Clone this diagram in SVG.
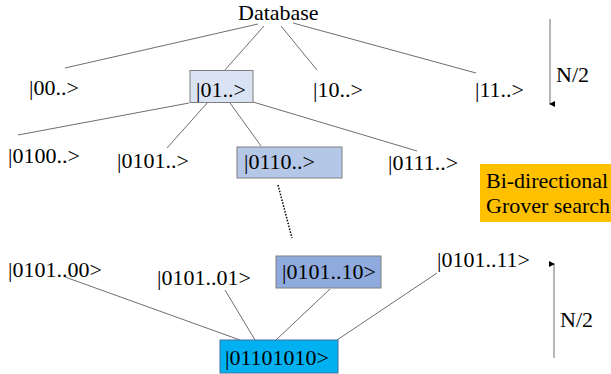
<svg xmlns="http://www.w3.org/2000/svg" width="611" height="374" viewBox="0 0 611 374">
<style>
text{font-family:"Liberation Serif","Times New Roman",serif;font-size:22px;fill:#000}
.c{stroke:#6e6e6e;stroke-width:1;fill:none}
.b{stroke:#7f7f7f;stroke-width:1}
</style>
<defs>
<marker id="ah" viewBox="0 0 6 6" refX="3" refY="5" markerWidth="6" markerHeight="6" orient="auto-start-reverse" markerUnits="userSpaceOnUse">
<path d="M0,0 L6,0 L3,6 z" fill="#000"/>
</marker>
</defs>
<rect width="611" height="374" fill="#fff"/>
<g id="connectors">
<line class="c" x1="258" y1="24" x2="65" y2="68"/>
<line class="c" x1="264" y1="26" x2="224" y2="71"/>
<line class="c" x1="281" y1="26" x2="317" y2="70"/>
<line class="c" x1="293" y1="23" x2="476" y2="73"/>
<line class="c" x1="189" y1="103" x2="18" y2="135"/>
<line class="c" x1="208" y1="102" x2="167" y2="148"/>
<line class="c" x1="230" y1="103" x2="261" y2="146"/>
<line class="c" x1="253" y1="102" x2="417" y2="151"/>
<line x1="278" y1="185" x2="292" y2="238" stroke="#000" stroke-width="1.5" stroke-dasharray="1.5,1.5"/>
<line class="c" x1="65" y1="277" x2="240" y2="340"/>
<line class="c" x1="225" y1="290" x2="255" y2="340"/>
<line class="c" x1="330" y1="289" x2="276" y2="340"/>
<line class="c" x1="437" y1="273" x2="337" y2="340"/>
<line x1="550" y1="19" x2="550" y2="104" stroke="#6e6e6e" stroke-width="1" marker-end="url(#ah)"/>
<line x1="554" y1="358" x2="554" y2="264" stroke="#6e6e6e" stroke-width="1" marker-end="url(#ah)"/>
</g>
<g id="database"><text x="238" y="20">Database</text></g>
<g id="n00"><text x="29" y="95">|00..&gt;</text></g>
<g id="n01"><rect class="b" x="190" y="70.5" width="63" height="32" fill="#dae3f3"/><text x="196" y="97">|01..&gt;</text></g>
<g id="n10"><text x="313" y="97">|10..&gt;</text></g>
<g id="n11"><text x="475" y="97">|11..&gt;</text></g>
<g id="n2top"><text x="556" y="82">N/2</text></g>
<g id="n0100"><text x="8" y="163">|0100..&gt;</text></g>
<g id="n0101"><text x="117" y="168">|0101..&gt;</text></g>
<g id="n0110"><rect class="b" x="237" y="147" width="105" height="31" fill="#b4c7e7"/><text x="244" y="169">|0110..&gt;</text></g>
<g id="n0111"><text x="388" y="170">|0111..&gt;</text></g>
<g id="bidir"><rect x="480" y="164" width="131" height="58" fill="#ffc000"/><text x="486" y="188">Bi-directional</text><text x="486" y="213">Grover search</text></g>
<g id="n010100"><text x="8" y="277">|0101..00&gt;</text></g>
<g id="n010101"><text x="157" y="285">|0101..01&gt;</text></g>
<g id="n010110"><rect class="b" x="276" y="256" width="105" height="32" fill="#8faadc"/><text x="282" y="279">|0101..10&gt;</text></g>
<g id="n010111"><text x="437" y="267">|0101..11&gt;</text></g>
<g id="target"><rect x="220" y="340" width="118" height="33" fill="#00b0f0" stroke="#41719c" stroke-width="1"/><text x="225" y="365">|01101010&gt;</text></g>
<g id="n2bot"><text x="560" y="327">N/2</text></g>
</svg>
